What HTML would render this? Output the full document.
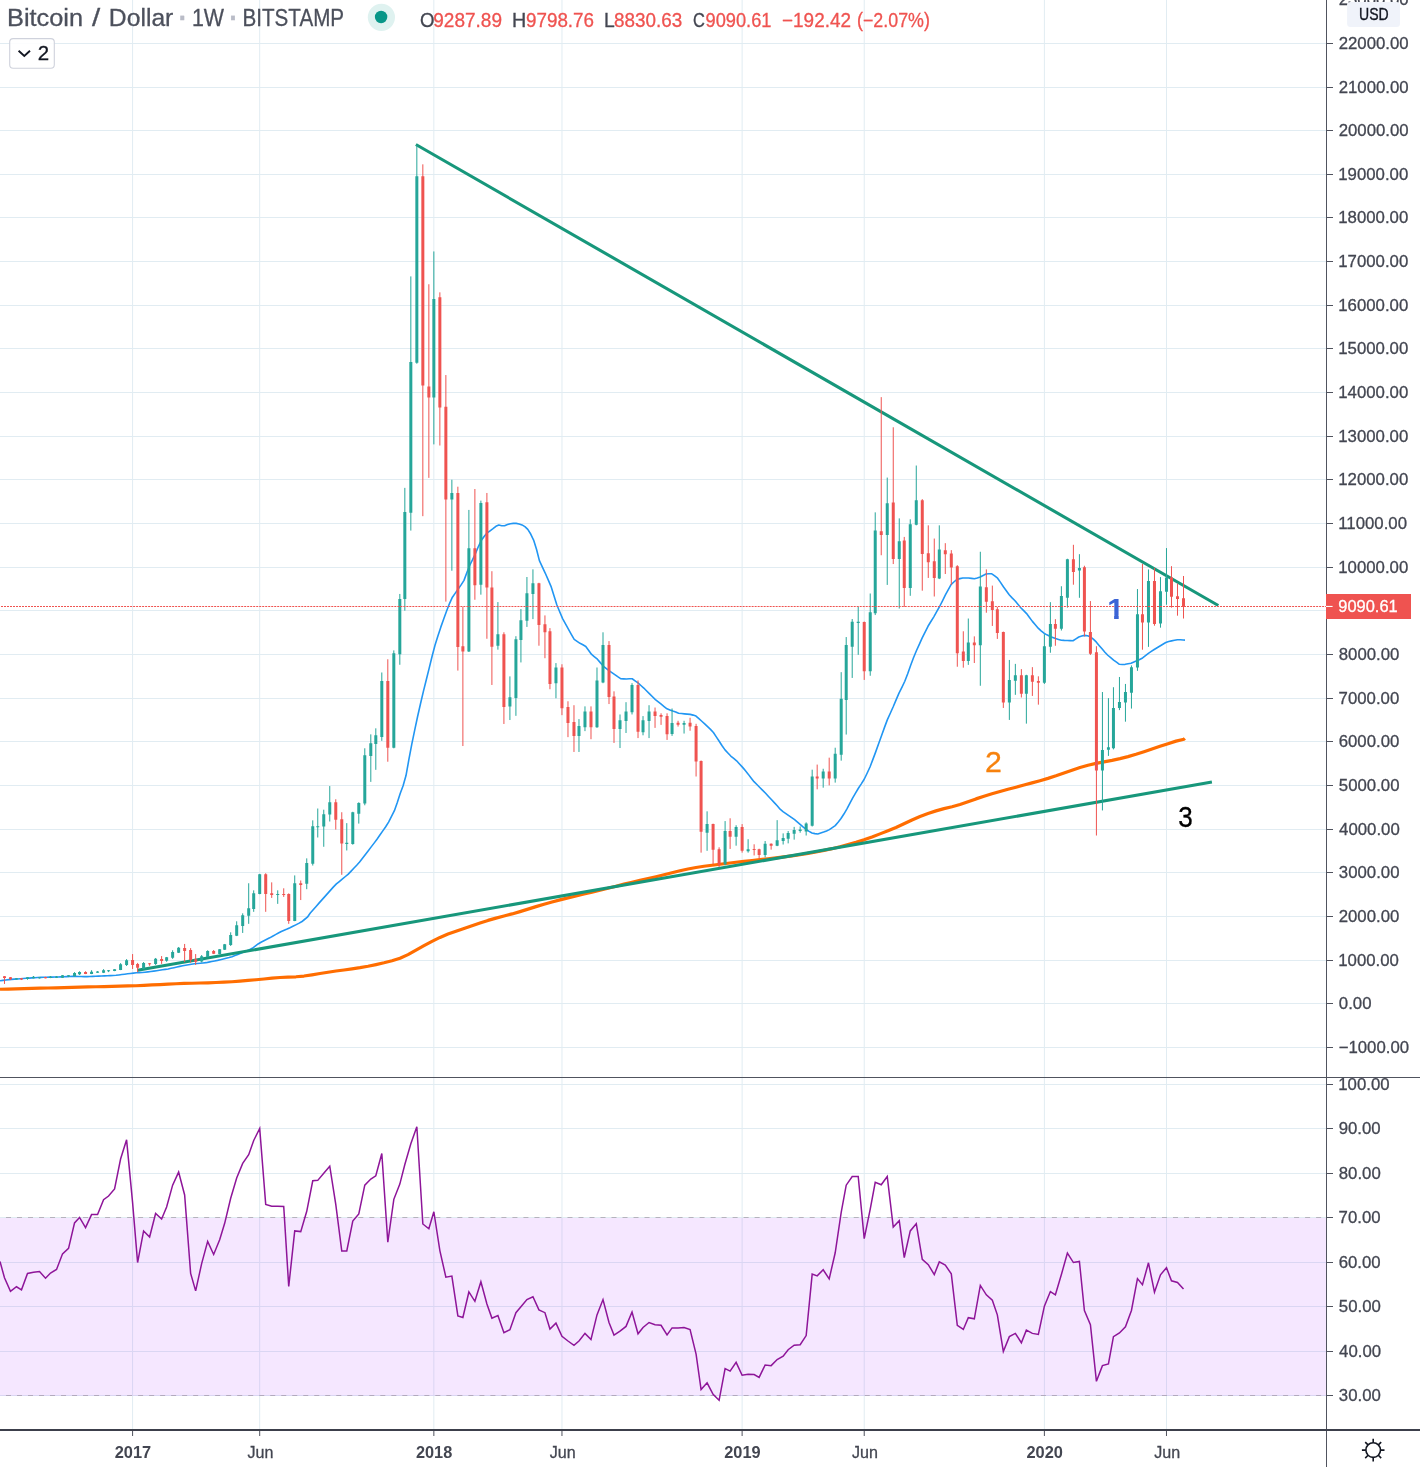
<!DOCTYPE html>
<html lang="en"><head><meta charset="utf-8"><title>Bitcoin / Dollar 1W BITSTAMP</title>
<style>html,body{margin:0;padding:0;background:#fff}body{width:1420px;height:1467px;overflow:hidden}</style></head>
<body>
<svg width="1420" height="1467" viewBox="0 0 1420 1467" style="display:block;font-family:'Liberation Sans', sans-serif">
<rect width="1420" height="1467" fill="#fff"/>
<path d="M0 1047.5 H1326 M0 1003.5 H1326 M0 960.5 H1326 M0 916.5 H1326 M0 872.5 H1326 M0 829.5 H1326 M0 785.5 H1326 M0 741.5 H1326 M0 698.5 H1326 M0 654.5 H1326 M0 610.5 H1326 M0 567.5 H1326 M0 523.5 H1326 M0 479.5 H1326 M0 436.5 H1326 M0 392.5 H1326 M0 348.5 H1326 M0 305.5 H1326 M0 261.5 H1326 M0 217.5 H1326 M0 174.5 H1326 M0 130.5 H1326 M0 87.5 H1326 M0 43.5 H1326 M0 1395.5 H1326 M0 1351.5 H1326 M0 1306.5 H1326 M0 1262.5 H1326 M0 1217.5 H1326 M0 1173.5 H1326 M0 1128.5 H1326 M0 1084.5 H1326 M132.59 0 V1429 M259.7 0 V1429 M433.85 0 V1429 M561.96 0 V1429 M742.12 0 V1429 M864.22 0 V1429 M1044.38 0 V1429 M1166.48 0 V1429" stroke="#e1ecf2" stroke-width="1" fill="none"/>
<rect x="0" y="1218" width="1326" height="178" fill="#9915ff" fill-opacity="0.1"/>
<path d="M0 1217.5 H1326 M0 1395.5 H1326" stroke="#9a8f9c" stroke-opacity="0.62" stroke-width="1" stroke-dasharray="5.0043 6.0052" stroke-dashoffset="-5.985" fill="none"/>
<path d="M0 989.23 L8 989.03 L16 988.82 L24 988.61 L32 988.41 L40 988.2 L48 988 L56 987.79 L64 987.59 L72 987.38 L80 987.17 L88 986.97 L96 986.76 L104 986.56 L112 986.36 L120 986.16 L128 985.97 L136 985.73 L144 985.38 L152 984.96 L160 984.55 L168 984.15 L176 983.77 L184 983.46 L192 983.23 L200 983.02 L208 982.78 L216 982.48 L224 982.16 L232 981.73 L240 981.14 L248 980.46 L256 979.76 L264 979 L272 978.2 L280 977.52 L288 977.12 L296 976.78 L304 976.04 L312 974.86 L320 973.52 L328 972.21 L336 971.03 L344 970.01 L352 968.94 L360 967.69 L368 966.24 L376 964.6 L384 962.78 L392 960.75 L400 958.22 L408 954.61 L416 950.11 L424 945.66 L432 941.38 L440 937.4 L448 934.05 L456 931.22 L464 928.54 L472 925.72 L480 922.96 L488 920.41 L496 918.09 L504 916 L512 913.92 L520 911.62 L528 909.14 L536 906.64 L544 904.25 L552 902 L560 899.87 L568 897.88 L576 895.95 L584 894.04 L592 892.12 L600 890.2 L608 888.24 L616 886.21 L624 884.15 L632 882.23 L640 880.41 L648 878.59 L656 876.72 L664 874.81 L672 872.79 L680 870.74 L688 868.97 L696 867.51 L704 866.28 L712 865.25 L720 864.25 L728 863.22 L736 862.23 L744 861.33 L752 860.5 L760 859.67 L768 858.78 L776 857.85 L784 856.87 L792 855.84 L800 854.71 L808 853.4 L816 851.96 L824 850.41 L832 848.68 L840 846.74 L848 844.6 L856 842.34 L864 839.86 L872 836.98 L880 833.88 L888 830.74 L896 827.46 L904 823.8 L912 819.94 L920 816.48 L928 813.52 L936 810.88 L944 808.62 L952 806.69 L960 804.55 L968 801.8 L976 798.88 L984 796.22 L992 793.8 L1000 791.52 L1008 789.33 L1016 787.17 L1024 785.02 L1032 782.86 L1040 780.67 L1048 778.35 L1056 775.82 L1064 773.04 L1072 770.18 L1080 767.51 L1088 765.21 L1096 763.42 L1104 761.93 L1112 760.38 L1120 758.64 L1128 756.65 L1136 754.32 L1144 751.73 L1152 749 L1160 746.26 L1168 743.65 L1176 741.14 L1184 739.2 L1184.8 738.38" stroke="#ff6d00" stroke-width="3.2" fill="none" stroke-linejoin="round" stroke-linecap="butt"/>
<path d="M0 980.78 L2.9 980.41 L5.8 980.03 L8.7 979.65 L11.6 979.34 L14.5 979.13 L17.4 978.93 L20.3 978.72 L23.2 978.52 L26.1 978.32 L29 978.12 L31.9 977.92 L34.8 977.74 L37.7 977.57 L40.6 977.4 L43.5 977.27 L46.4 977.21 L49.3 977.15 L52.2 977.1 L55.1 977.02 L58 976.93 L60.9 976.84 L63.8 976.75 L66.7 976.63 L69.6 976.52 L72.5 976.4 L75.4 976.39 L78.3 976.48 L81.2 976.56 L84.1 976.65 L87 976.59 L89.9 976.5 L92.8 976.41 L95.7 976.31 L98.6 976.17 L101.5 976.02 L104.4 975.88 L107.3 975.73 L110.2 975.59 L113.1 975.44 L116 975.3 L118.9 974.94 L121.8 974.56 L124.7 974.19 L127.6 973.82 L130.5 973.47 L133.4 973.12 L136.3 972.77 L139.2 972.6 L142.1 972.53 L145 972.21 L147.9 971.84 L150.8 971.46 L153.7 971.09 L156.6 970.69 L159.5 970.25 L162.4 969.81 L165.3 969.38 L168.2 968.93 L171.1 968.29 L174 967.66 L176.9 967.02 L179.8 966.39 L182.7 965.83 L185.6 965.31 L188.5 964.79 L191.4 964.27 L194.3 963.82 L197.2 963.54 L200.1 963.25 L203 962.96 L205.9 962.67 L208.8 962.11 L211.7 961.53 L214.6 960.94 L217.5 960.36 L220.4 959.7 L223.3 958.98 L226.2 958.25 L229.1 957.53 L232 956.72 L234.9 955.57 L237.8 954.41 L240.7 953.26 L243.6 952.1 L246.5 950.9 L249.4 949.7 L252.3 948.29 L255.2 946.12 L258.1 943.95 L261 942.2 L263.9 940.75 L266.8 939.3 L269.7 937.83 L272.6 936.24 L275.5 934.65 L278.4 933.07 L281.3 931.48 L284.2 930.2 L287.1 929.03 L290 927.72 L292.9 926.29 L295.8 924.85 L298.7 923.39 L301.6 921.79 L304.5 919.5 L307.4 917.21 L310.3 913 L313.2 909.71 L316.1 906.43 L319 903.14 L321.9 899.86 L324.8 896.62 L327.7 893.38 L330.6 890.14 L333.5 886.9 L336.4 883.89 L339.3 881.51 L342.2 879.13 L345.1 876.75 L348 874.37 L350.9 871.37 L353.8 868.3 L356.7 865.22 L359.6 861.96 L362.5 858.19 L365.4 854.42 L368.3 850.65 L371.2 846.88 L374.1 843.12 L377 839.22 L379.9 835.05 L382.8 830.88 L385.7 826.71 L388.6 822.07 L391.5 816.4 L394.4 810.73 L397.3 802.47 L400.2 793.47 L403.1 785.83 L406 775.56 L408.9 759.46 L411.8 744.03 L414.7 730.1 L417.6 716.53 L420.5 703.76 L423.4 691.35 L426.3 679.74 L429.2 668.07 L432.1 656.26 L435 645.32 L437.9 636.03 L440.8 627.14 L443.7 619.02 L446.6 611.09 L449.5 603.55 L452.4 597.2 L455.3 593.14 L458.2 589.05 L461.1 584.91 L464 580.37 L466.9 572.45 L469.8 565.26 L472.7 559.45 L475.6 553.25 L478.5 546.28 L481.4 540.32 L484.3 536.26 L487.2 532.88 L490.1 530.79 L493 528.62 L495.9 526.29 L498.8 525.01 L501.7 525.71 L504.6 525.77 L507.5 524.61 L510.4 523.72 L513.3 523.38 L516.2 523.35 L519.1 523.93 L522 524.91 L524.9 526.65 L527.8 529.39 L530.7 534.04 L533.6 540.03 L536.5 549.28 L539.4 560.67 L542.3 566.82 L545.2 573.04 L548.1 579.64 L551 586.34 L553.9 595.59 L556.8 604.77 L559.7 611.71 L562.6 618.6 L565.5 623.81 L568.4 629.02 L571.3 634.32 L574.2 639.38 L577.1 641.35 L580 643.29 L582.9 644.79 L585.8 646.47 L588.7 650.52 L591.6 654.45 L594.5 656.77 L597.4 659.16 L600.3 662.63 L603.2 666.03 L606.1 668.34 L609 670.63 L611.9 672.6 L614.8 674.57 L617.7 676.66 L620.6 678.61 L623.5 678.84 L626.4 679.04 L629.3 678.81 L632.2 678.74 L635.1 680.82 L638 682.94 L640.9 685.48 L643.8 688.05 L646.7 690.95 L649.6 693.84 L652.5 696.73 L655.4 699.59 L658.3 701.9 L661.2 704.21 L664.1 706.53 L667 708.76 L669.9 709.92 L672.8 711.05 L675.7 712.02 L678.6 713.32 L681.5 713.57 L684.4 713.86 L687.3 714.09 L690.2 714.4 L693.1 715.1 L696 716.11 L698.9 718.67 L701.8 721.24 L704.7 723.91 L707.6 726.6 L710.5 729.39 L713.4 732.45 L716.3 736.86 L719.2 741.28 L722.1 745.69 L725 749.88 L727.9 753.01 L730.8 756.01 L733.7 758.33 L736.6 760.79 L739.5 763.92 L742.4 767.12 L745.3 770.6 L748.2 774.14 L751.1 777.97 L754 781.65 L756.9 784.55 L759.8 787.45 L762.7 790.35 L765.6 793.29 L768.5 796.43 L771.4 799.55 L774.3 802.62 L777.2 805.76 L780.1 809.18 L783 811.54 L785.9 813.58 L788.8 815.61 L791.7 817.65 L794.6 819.68 L797.5 822.1 L800.4 824.63 L803.3 827.16 L806.2 829.49 L809.1 831.37 L812 832.97 L814.9 833.65 L817.8 834.01 L820.7 833.07 L823.6 832.1 L826.5 830.92 L829.4 829.62 L832.3 827.62 L835.2 825.61 L838.1 822.24 L841 818.5 L843.9 814.04 L846.8 809.08 L849.7 803.56 L852.6 798.11 L855.5 793.14 L858.4 788.25 L861.3 783.86 L864.2 779.25 L867.1 773.24 L870 767.01 L872.9 759.37 L875.8 751.65 L878.7 743.56 L881.6 735.47 L884.5 727.39 L887.4 719.6 L890.3 713.24 L893.2 706.79 L896.1 699.86 L899 693.13 L901.9 687.35 L904.8 681.27 L907.7 673.76 L910.6 665.43 L913.5 657.73 L916.4 650.78 L919.3 644.32 L922.2 637.95 L925.1 632.07 L928 626.28 L930.9 621.48 L933.8 616.84 L936.7 611.71 L939.6 606.49 L942.5 600.78 L945.4 594.98 L948.3 589.69 L951.2 584.47 L954.1 581.75 L957 579.43 L959.9 578.61 L962.8 578.03 L965.7 577.95 L968.6 577.95 L971.5 578.35 L974.4 578.82 L977.3 577.98 L980.2 576.94 L983.1 575.5 L986 573.99 L988.9 573.78 L991.8 573.78 L994.7 575.86 L997.6 578.18 L1000.5 582.37 L1003.4 586.77 L1006.3 590.82 L1009.2 594.8 L1012.1 597.9 L1015 600.77 L1017.9 604.22 L1020.8 607.71 L1023.7 610.59 L1026.6 613.6 L1029.5 617.49 L1032.4 621.39 L1035.3 624.8 L1038.2 628.15 L1041.1 630.88 L1044 633.22 L1046.9 634.83 L1049.8 636.21 L1052.7 637.41 L1055.6 638.58 L1058.5 639.41 L1061.4 640.24 L1064.3 640.42 L1067.2 640.53 L1070.1 640.64 L1073 640.76 L1075.9 638.84 L1078.8 636.96 L1081.7 636.04 L1084.6 635.38 L1087.5 635.73 L1090.4 636.76 L1093.3 639.06 L1096.2 641.9 L1099.1 645.42 L1102 648.84 L1104.9 652.19 L1107.8 655.26 L1110.7 657.69 L1113.6 660.1 L1116.5 662.21 L1119.4 664.32 L1122.3 664.57 L1125.2 664.33 L1128.1 663.78 L1131 663.19 L1133.9 662.02 L1136.8 660.85 L1139.7 659.43 L1142.6 657.93 L1145.5 655.68 L1148.4 653.35 L1151.3 651.43 L1154.2 649.51 L1157.1 647.72 L1160 645.96 L1162.9 644.21 L1165.8 642.46 L1168.7 641.48 L1171.6 640.9 L1174.5 640.33 L1177.4 639.75 L1180.3 639.82 L1183.2 640 L1185 640.11" stroke="#2196f3" stroke-width="1.6" fill="none" stroke-linejoin="round"/>
<path d="M415.9 144.5 L1218.3 605.5 M137.6 970.3 L1211.9 782.0" stroke="#17977b" stroke-width="3.1" fill="none" stroke-linecap="butt"/>
<g>
<path d="M16.49 978.14 V979.62 M27.5 977.08 V979.72 M33.51 976.03 V978.35 M39.51 977.08 V978.56 M50.52 976.03 V978.14 M56.53 976.03 V978.03 M62.53 975.08 V978.03 M68.54 975.08 V977.08 M74.54 972.12 V976.45 M79.55 971.27 V974.97 M91.56 970.22 V974.13 M97.56 971.06 V972.86 M103.57 969.16 V973.07 M108.57 970.01 V972.12 M114.58 969.16 V971.17 M120.58 963.14 V970.11 M126.59 959.13 V965.99 M143.6 962.02 V968.97 M155.61 957.97 V964.93 M166.62 956.96 V961.76 M172.63 950.26 V958.86 M178.63 946.97 V953.04 M201.65 955.06 V962.4 M207.66 950.26 V957.21 M219.67 949.12 V954.3 M224.67 943.94 V950.01 M230.68 932.3 V945.96 M236.68 921.3 V936.1 M242.69 913.34 V932.94 M248.69 883.25 V923.83 M253.7 890.33 V911.82 M259.7 873.89 V894.25 M277.72 890.33 V903.86 M294.73 875.41 V921.18 M306.74 858.36 V889.19 M312.75 820.35 V865.55 M317.75 808.53 V837.5 M323.76 809.69 V846.77 M329.76 786.05 V821.51 M346.78 823.13 V850.48 M352.78 811.78 V844.69 M358.79 802.28 V823.6 M364.79 748.28 V805.29 M370.8 734.37 V781.88 M375.8 728.34 V769.83 M381.81 672.49 V740.86 M393.82 650.38 V748.35 M399.82 593.96 V664.77 M404.83 487.86 V610.68 M410.83 276.4 V530.58 M416.84 145.16 V363.74 M433.85 251.44 V444.38 M451.87 479.73 V570.74 M468.88 509.91 V652 M480.89 500.63 V594.66 M497.91 602.09 V649.68 M509.92 676.38 V720.03 M515.92 636.21 V715.85 M520.93 609.05 V662.45 M526.93 577.01 V626.93 M532.94 569.35 V619.11 M555.96 663.09 V698.27 M578.98 719.1 V751.96 M584.98 706.37 V731.13 M596.99 667.49 V727.89 M603 632.31 V683.22 M620.01 714.47 V748.03 M626.02 702.2 V732.99 M632.02 683.22 V714.47 M643.03 716.09 V735.3 M649.04 705.21 V738.08 M672.06 708.48 V735.87 M684.07 720.78 V733.55 M707.09 811.33 V850.8 M725.1 821.08 V865.19 M736.11 825.26 V845.69 M748.12 839.19 V852.65 M765.14 841.04 V857.3 M777.15 820.15 V846.15 M783.15 833.38 V844.53 M788.16 831.06 V843.37 M794.16 826.88 V839.65 M800.17 826.42 V832.69 M806.17 822.36 V835.53 M812.18 769.68 V826.52 M823.19 768.75 V787.7 M835.2 747.73 V782.62 M841.2 672.17 V760.67 M846.21 637.05 V734.56 M852.21 619.03 V677.95 M858.22 606.78 V654.84 M870.23 593.49 V675.78 M875.23 512.35 V615.05 M887.24 477.58 V584.91 M899.25 518.38 V608.55 M910.26 519.3 V595.8 M916.27 465.52 V525.33 M939.29 525.33 V579.11 M968.31 618.52 V664.89 M980.32 551.76 V685.75 M1009.35 659.96 V719.93 M1015.35 663.88 V694.85 M1026.36 674.79 V723.64 M1044.38 634.22 V683.95 M1050.38 602.16 V652.76 M1061.39 586.24 V630.51 M1067.4 558.76 V607.61 M1079.41 554.18 V597.8 M1102.43 692.02 V810.45 M1108.43 698.12 V755.92 M1113.44 687.22 V749.38 M1119.44 676.97 V710.12 M1125.45 683.95 V721.68 M1131.45 665.41 V708.59 M1137.46 589.07 V670.86 M1148.47 569.44 V646.87 M1160.48 577.08 V627.68 M1166.48 548.07 V604.78" stroke="#26a69a" stroke-width="1" fill="none"/>
<path d="M14.99 978.35h3v1.06h-3z M26 977.3h3v1.69h-3z M32.01 976.87h3v1.27h-3z M38.01 977.3h3v1.06h-3z M49.02 976.77h3v1.16h-3z M55.03 976.56h3v1.27h-3z M61.03 975.29h3v2.54h-3z M67.04 975.29h3v1.27h-3z M73.04 973.07h3v3.17h-3z M78.05 972.12h3v2.01h-3z M90.06 971.8h3v2.11h-3z M96.06 971.59h3v1.06h-3z M102.07 970.22h3v2.64h-3z M107.07 970.22h3v1.06h-3z M113.08 969.37h3v1.58h-3z M119.08 964.2h3v5.7h-3z M125.09 960.18h3v4.75h-3z M142.1 962.9h3v5.82h-3z M154.11 958.86h3v5.06h-3z M165.12 957.34h3v3.41h-3z M171.13 951.9h3v5.94h-3z M177.13 947.73h3v5.06h-3z M200.15 956.33h3v5.06h-3z M206.16 951.02h3v5.94h-3z M218.17 949.37h3v4.68h-3z M223.17 944.19h3v5.56h-3z M229.18 935.09h3v9.86h-3z M235.18 925.35h3v10.49h-3z M241.19 915.24h3v10.75h-3z M247.19 908.28h3v7.59h-3z M252.2 893.36h3v15.55h-3z M258.2 874.14h3v19.85h-3z M276.22 893.99h3v1.01h-3z M293.23 883.25h3v37.68h-3z M305.24 863h3v20.86h-3z M311.25 826.15h3v37.55h-3z M316.25 826.15h3v1.16h-3z M322.26 814.33h3v12.28h-3z M328.26 802.28h3v12.28h-3z M345.28 842.83h3v1.16h-3z M351.28 812.24h3v31.75h-3z M357.29 802.97h3v10.89h-3z M363.29 755.23h3v48.21h-3z M369.3 743.18h3v12.75h-3z M374.3 735.3h3v8.58h-3z M380.31 681.06h3v55.85h-3z M392.32 653.16h3v94.49h-3z M398.32 599.07h3v55.26h-3z M403.33 512h3v87.06h-3z M409.33 361.89h3v150.81h-3z M415.34 176.35h3v186.47h-3z M432.35 299.04h3v98.43h-3z M450.37 492.97h3v6.5h-3z M467.38 548.22h3v103.32h-3z M479.39 502.95h3v81.72h-3z M496.41 634.13h3v11.61h-3z M508.42 697.28h3v9.29h-3z M514.42 639.23h3v58.74h-3z M519.43 620.19h3v19.73h-3z M525.43 593.26h3v27.4h-3z M531.44 583.24h3v10.88h-3z M554.46 667.49h3v15.74h-3z M577.48 726.04h3v9.95h-3z M583.48 711.46h3v15.74h-3z M595.49 680.45h3v46.75h-3z M601.5 645.04h3v37.49h-3z M618.51 720.26h3v8.8h-3z M624.52 711.46h3v9.49h-3z M630.52 685.08h3v27.08h-3z M641.53 720.26h3v12.04h-3z M647.54 711.46h3v9.49h-3z M670.56 723.1h3v10.91h-3z M682.57 723.1h3v1.63h-3z M705.59 824.1h3v8.59h-3z M723.6 831.06h3v33.2h-3z M734.61 826.88h3v9.98h-3z M746.62 849.17h3v2.09h-3z M763.64 843.83h3v11.14h-3z M775.65 840.35h3v5.34h-3z M781.65 838.03h3v3.02h-3z M786.66 832.92h3v5.8h-3z M792.66 829.9h3v3.95h-3z M798.67 829.44h3v1.63h-3z M804.67 823.52h3v8.09h-3z M810.68 776.61h3v49.22h-3z M821.69 771.53h3v6.93h-3z M833.7 753.73h3v24.72h-3z M839.7 698.74h3v55.92h-3z M844.71 644.91h3v54.99h-3z M850.71 621.8h3v24.95h-3z M856.72 621.8h3v1.16h-3z M868.73 612.26h3v58.88h-3z M873.73 530.43h3v82.76h-3z M885.74 503.31h3v31.76h-3z M897.75 541.33h3v17.62h-3z M908.76 524.17h3v63.75h-3z M914.77 500.3h3v24.34h-3z M937.79 549.44h3v28.98h-3z M966.81 642.4h3v18.55h-3z M978.82 586.53h3v58.65h-3z M1007.85 680.02h3v22.46h-3z M1013.85 675.22h3v5.45h-3z M1024.86 675.22h3v18.54h-3z M1042.88 646.22h3v36.64h-3z M1048.88 623.97h3v22.9h-3z M1059.89 596.05h3v32.72h-3z M1065.9 559.19h3v38.6h-3z M1077.91 567.92h3v2.62h-3z M1100.93 750.03h3v20.5h-3z M1106.93 747.2h3v2.62h-3z M1111.94 707.94h3v40.35h-3z M1117.94 702.05h3v5.89h-3z M1123.95 692.02h3v10.47h-3z M1129.95 667.15h3v25.52h-3z M1135.96 614.15h3v53.44h-3z M1146.97 581h3v41.44h-3z M1158.98 591.25h3v32.28h-3z M1164.98 577.51h3v14.18h-3z" fill="#26a69a"/>
<path d="M4.48 976.03 V983.95 M10.49 977.08 V980.04 M21.5 978.14 V980.04 M45.52 976.87 V978.35 M85.55 971.27 V974.13 M132.59 954.05 V968.97 M137.6 962.9 V972.13 M149.61 963.03 V965.81 M161.62 956.07 V963.91 M184.64 943.94 V962.02 M190.64 948.11 V962.65 M195.65 954.05 V964.93 M213.66 950.01 V954.05 M265.71 873.26 V911.82 M271.71 882.36 V897.91 M283.72 888.3 V896.9 M288.73 893.36 V923.83 M300.74 880.47 V900.06 M335.77 799.26 V829.62 M341.77 812.24 V874.82 M387.81 659.28 V761.72 M422.84 164.33 V516.18 M428.85 284.25 V477.87 M439.86 292.34 V445.53 M445.86 375.06 V601.62 M457.87 486.7 V670.58 M462.88 606.73 V746.03 M474.89 489.02 V599.76 M486.9 492.97 V638.77 M491.9 571.21 V684.97 M503.91 632.27 V723.97 M538.94 582.78 V645.73 M544.95 615.41 V658.23 M549.95 628.14 V689.24 M561.96 664.25 V715.16 M567.97 701.28 V737.15 M573.97 705.21 V751.96 M590.99 706.37 V739.23 M609 641.1 V704.05 M614.01 691.33 V742.94 M638.03 680.45 V738.08 M655.04 707.53 V727.89 M661.05 713.31 V724.89 M667.05 713.31 V739.93 M678.06 720.78 V726.58 M690.07 717.76 V730.76 M696.08 723.8 V776.5 M701.08 760.48 V852.65 M713.09 823.63 V864.26 M719.1 847.31 V867.05 M730.11 818.29 V848.94 M742.12 824.1 V852.65 M754.13 844.3 V855.44 M759.13 848.71 V858.46 M771.14 843.37 V849.64 M817.18 764.59 V789.32 M829.19 757.66 V785.39 M864.22 621.54 V679.95 M881.24 397.14 V555.24 M893.25 427.27 V564.05 M904.26 536.92 V606.93 M922.27 499.14 V590.7 M928.28 525.33 V577.95 M934.28 538.55 V596.5 M945.29 543.18 V574.01 M951.3 550.14 V584.91 M957.3 565.2 V666.74 M963.31 631.27 V667.67 M974.32 636.37 V663.03 M986.33 569.38 V612.73 M992.33 585.6 V625.94 M997.34 606.93 V638.92 M1003.34 631.6 V707.94 M1021.36 669.12 V697.47 M1032.37 667.15 V695.94 M1038.37 676.31 V704.67 M1055.39 619.17 V645.78 M1073.4 544.8 V584.71 M1084.41 565.74 V636.4 M1090.42 601.07 V654.94 M1096.42 646.22 V835.53 M1142.46 563.99 V649.71 M1154.47 567.92 V625.71 M1171.49 566.17 V607.61 M1177.49 583.62 V615.68 M1183.5 575.99 V618.52" stroke="#ef5350" stroke-width="1" fill="none"/>
<path d="M2.98 976.24h3v1.69h-3z M8.99 977.3h3v1.9h-3z M20 978.35h3v1.06h-3z M44.02 977.08h3v1.06h-3z M84.05 972.12h3v1.8h-3z M131.09 960.12h3v4.8h-3z M136.1 963.91h3v3.79h-3z M148.11 963.22h3v1h-3z M160.12 959.11h3v1.77h-3z M183.14 948.11h3v2.91h-3z M189.14 950.01h3v10.11h-3z M194.15 959.24h3v2.53h-3z M212.16 951.02h3v2.78h-3z M264.21 874.14h3v19.85h-3z M270.21 893.36h3v1.64h-3z M282.22 893.99h3v1.01h-3z M287.23 893.99h3v26.93h-3z M299.24 883.25h3v1.64h-3z M334.27 802.28h3v17.38h-3z M340.27 819.19h3v24.34h-3z M386.31 681.06h3v66.75h-3z M421.34 176.35h3v209.11h-3z M427.35 386.61h3v10.86h-3z M438.36 297.19h3v110.22h-3z M444.36 406.72h3v92.75h-3z M456.37 492.97h3v153.93h-3z M461.38 646.2h3v5.34h-3z M473.39 548.22h3v37.15h-3z M485.4 502.25h3v85.21h-3z M490.4 587.46h3v59.2h-3z M502.41 634.13h3v72.9h-3z M537.44 583.24h3v41.66h-3z M543.45 624.2h3v8.1h-3z M548.45 631.15h3v52.77h-3z M560.46 667.49h3v40.73h-3z M566.47 707.06h3v15.97h-3z M572.47 722.11h3v13.89h-3z M589.49 711.46h3v15.74h-3z M607.5 645.04h3v52.08h-3z M612.51 696.42h3v32.63h-3z M636.53 685.08h3v46.75h-3z M653.54 711.46h3v4.63h-3z M659.55 714.93h3v1.85h-3z M665.55 716.09h3v18.05h-3z M676.56 722.64h3v2.09h-3z M688.57 722.64h3v3.95h-3z M694.58 726.12h3v35.29h-3z M699.58 760.95h3v70.81h-3z M711.59 824.1h3v25.54h-3z M717.6 849.17h3v15.56h-3z M728.61 831.06h3v5.8h-3z M740.62 826.88h3v23.91h-3z M752.63 848.94h3v1.16h-3z M757.63 849.17h3v5.8h-3z M769.64 843.83h3v1.86h-3z M815.68 776.61h3v1.85h-3z M827.69 771.53h3v6.93h-3z M862.72 622h3v49.15h-3z M879.74 531.13h3v3.94h-3z M891.75 502.61h3v56.33h-3z M902.76 540.4h3v47.52h-3z M920.77 500.3h3v53.78h-3z M926.78 553.15h3v9.04h-3z M932.78 561.26h3v16.69h-3z M943.79 550.14h3v4.17h-3z M949.8 553.61h3v13.91h-3z M955.8 566.36h3v86.93h-3z M961.81 651.44h3v9.5h-3z M972.82 642.4h3v2.78h-3z M984.83 587.23h3v14.6h-3z M990.83 601.14h3v8.81h-3z M995.84 609.25h3v23.65h-3z M1001.84 632.04h3v70.45h-3z M1019.86 675.22h3v18.54h-3z M1030.87 675.22h3v6.54h-3z M1036.87 681.11h3v1.74h-3z M1053.89 623.97h3v4.8h-3z M1071.9 559.19h3v12.87h-3z M1082.91 567.26h3v64.34h-3z M1088.92 632.04h3v21.81h-3z M1094.92 652.32h3v118.21h-3z M1140.96 614.15h3v8.29h-3z M1152.97 581h3v42.97h-3z M1169.99 577.51h3v19.19h-3z M1175.99 596.27h3v2.62h-3z M1182 598.23h3v8.29h-3z" fill="#ef5350"/>
</g>
<path d="M-0.02 606.45 H1326" stroke="#ef5350" stroke-width="1.05" stroke-dasharray="2.0017 1.0009" stroke-dashoffset="2.0017" fill="none"/>
<clipPath id="c1"><rect x="1104" y="590" width="22" height="25.6"/><rect x="1114.1" y="615" width="4.6" height="5"/></clipPath>
<text x="1107.3" y="618.8" font-size="30.4" font-weight="bold" fill="#3b64d6" clip-path="url(#c1)">1</text>
<text x="984.98" y="771.90" font-size="29.68" textLength="16.87" lengthAdjust="spacingAndGlyphs" fill="#f7820d" stroke="#f7820d" stroke-width="0.3">2</text>
<text x="1178.22" y="827.40" font-size="28.98" textLength="14.52" lengthAdjust="spacingAndGlyphs" fill="#000" stroke="#000" stroke-width="0.3">3</text>
<path d="M0 1261.46 L4.48 1277.8 L10.49 1291.32 L16.49 1286.74 L21.5 1289.79 L27.5 1273.44 L33.51 1272.35 L39.51 1271.48 L45.52 1278.24 L50.52 1273.01 L56.53 1269.52 L62.53 1253.83 L68.54 1248.38 L74.54 1222.88 L79.55 1217.43 L85.55 1227.67 L91.56 1214.59 L97.56 1214.59 L103.57 1199.77 L108.57 1196.07 L114.58 1188.87 L120.58 1159.01 L126.59 1139.83 L132.59 1202.61 L137.6 1262.54 L143.6 1230.94 L149.61 1237.04 L155.61 1213.5 L161.62 1218.95 L166.62 1206.97 L172.63 1185.17 L178.63 1172.09 L184.64 1194.98 L190.64 1273.44 L195.65 1290.88 L201.65 1263.63 L207.66 1241.4 L213.66 1254.48 L219.67 1239.66 L224.67 1223.31 L230.68 1198.25 L236.68 1177.98 L242.69 1163.37 L248.69 1154.66 L253.7 1140.49 L259.7 1128.5 L265.71 1204.35 L271.71 1206.31 L277.72 1206.31 L283.72 1206.53 L288.73 1286.52 L294.73 1230.94 L300.74 1231.59 L306.74 1211.32 L312.75 1180.81 L317.75 1180.37 L323.76 1173.18 L329.76 1166.21 L335.77 1204.35 L341.77 1250.99 L346.78 1250.99 L352.78 1221.13 L358.79 1213.94 L364.79 1185.17 L370.8 1179.07 L375.8 1175.8 L381.81 1153.57 L387.81 1242.27 L393.82 1199.34 L399.82 1184.08 L404.83 1164.46 L410.83 1143.76 L416.84 1126.76 L422.84 1223.97 L428.85 1228.76 L433.85 1211.76 L439.86 1250.56 L445.86 1277.15 L451.87 1276.06 L457.87 1315.94 L462.88 1317.47 L468.88 1291.97 L474.89 1301.34 L480.89 1281.73 L486.9 1303.96 L491.9 1318.12 L497.91 1315.51 L503.91 1332.73 L509.92 1329.68 L515.92 1312.68 L520.93 1306.79 L526.93 1299.6 L532.94 1296.76 L538.94 1309.84 L544.95 1312.68 L549.95 1329.02 L555.96 1323.14 L561.96 1336.22 L567.97 1341.01 L573.97 1345.37 L578.98 1341.01 L584.98 1333.38 L590.99 1339.48 L596.99 1314.86 L603 1299.6 L609 1322.48 L614.01 1335.13 L620.01 1331.2 L626.02 1326.41 L632.02 1312.02 L638.03 1333.82 L643.03 1327.5 L649.04 1322.48 L655.04 1324.66 L661.05 1325.32 L667.05 1334.91 L672.06 1327.93 L678.06 1327.93 L684.07 1327.5 L690.07 1329.46 L696.08 1354.09 L701.08 1389.62 L707.09 1382.86 L713.09 1394.41 L719.1 1400.3 L725.1 1368.69 L730.11 1371.09 L736.11 1362.37 L742.12 1375.23 L748.12 1374.36 L754.13 1374.58 L759.13 1377.41 L765.14 1364.99 L771.14 1365.64 L777.15 1359.54 L783.15 1356.27 L788.16 1349.73 L794.16 1345.15 L800.17 1344.72 L806.17 1335.56 L812.18 1274.1 L817.18 1275.84 L823.19 1269.74 L829.19 1278.89 L835.2 1252.74 L841.2 1212.41 L846.21 1185.17 L852.21 1176.45 L858.22 1176.45 L864.22 1238.57 L870.23 1209.14 L875.23 1182.34 L881.24 1184.73 L887.24 1176.45 L893.25 1227.02 L899.25 1220.7 L904.26 1257.53 L910.26 1230.94 L916.27 1223.75 L922.27 1259.28 L928.28 1264.72 L934.28 1274.53 L939.29 1261.89 L945.29 1265.16 L951.3 1273.88 L957.3 1325.32 L963.31 1329.46 L968.31 1317.69 L974.32 1318.78 L980.32 1285.43 L986.33 1294.8 L992.33 1300.25 L997.34 1314.86 L1003.34 1351.47 L1009.35 1336.65 L1015.35 1333.38 L1021.36 1342.75 L1026.36 1330.11 L1032.37 1333.38 L1038.37 1334.47 L1044.38 1306.14 L1050.38 1291.53 L1055.39 1294.8 L1061.39 1274.53 L1067.4 1253.17 L1073.4 1262.54 L1079.41 1261.46 L1084.41 1310.5 L1090.42 1324.66 L1096.42 1381.33 L1102.43 1365.64 L1108.43 1363.9 L1113.44 1336.65 L1119.44 1332.95 L1125.45 1326.84 L1131.45 1310.5 L1137.46 1278.61 L1142.46 1284.61 L1148.47 1262.79 L1154.47 1292.25 L1160.48 1274.79 L1166.48 1267.7 L1171.49 1280.79 L1177.49 1282.43 L1183.5 1288.97" stroke="#8e1599" stroke-width="1.5" fill="none" stroke-linejoin="miter"/>
<path d="M1326.5 0 V1467" stroke="#50535e" stroke-width="1" fill="none"/>
<path d="M0 1077.5 H1420" stroke="#50535e" stroke-width="1" fill="none"/>
<path d="M0 1430 H1420" stroke="#3c3f4b" stroke-width="2" fill="none"/>
<path d="M1327 1047.5 h6 M1327 1003.5 h6 M1327 960.5 h6 M1327 916.5 h6 M1327 872.5 h6 M1327 829.5 h6 M1327 785.5 h6 M1327 741.5 h6 M1327 698.5 h6 M1327 654.5 h6 M1327 567.5 h6 M1327 523.5 h6 M1327 479.5 h6 M1327 436.5 h6 M1327 392.5 h6 M1327 348.5 h6 M1327 305.5 h6 M1327 261.5 h6 M1327 217.5 h6 M1327 174.5 h6 M1327 130.5 h6 M1327 87.5 h6 M1327 43.5 h6 M1327 1395.5 h6 M1327 1351.5 h6 M1327 1306.5 h6 M1327 1262.5 h6 M1327 1217.5 h6 M1327 1173.5 h6 M1327 1128.5 h6 M1327 1084.5 h6 M132.59 1431 v5 M259.7 1431 v5 M433.85 1431 v5 M561.96 1431 v5 M742.12 1431 v5 M864.22 1431 v5 M1044.38 1431 v5 M1166.48 1431 v5" stroke="#50535e" stroke-width="1" fill="none"/>
<g font-size="16.8" fill="#434651" stroke="#434651" stroke-width="0.3">
<text x="1338.66" y="1052.9">−1000.00</text>
<text x="1338.83" y="1008.9">0.00</text>
<text x="1338.24" y="965.9">1000.00</text>
<text x="1338.66" y="921.9">2000.00</text>
<text x="1338.87" y="877.9">3000.00</text>
<text x="1339.12" y="834.9">4000.00</text>
<text x="1338.83" y="790.9">5000.00</text>
<text x="1338.66" y="746.9">6000.00</text>
<text x="1338.62" y="703.9">7000.00</text>
<text x="1338.79" y="659.9">8000.00</text>
<text x="1338.24" y="572.9">10000.00</text>
<text x="1338.24" y="528.9">11000.00</text>
<text x="1338.24" y="484.9">12000.00</text>
<text x="1338.24" y="441.9">13000.00</text>
<text x="1338.24" y="397.9">14000.00</text>
<text x="1338.24" y="353.9">15000.00</text>
<text x="1338.24" y="310.9">16000.00</text>
<text x="1338.24" y="266.9">17000.00</text>
<text x="1338.24" y="222.9">18000.00</text>
<text x="1338.24" y="179.9">19000.00</text>
<text x="1338.66" y="135.9">20000.00</text>
<text x="1338.66" y="92.9">21000.00</text>
<text x="1338.66" y="48.9">22000.00</text>
<text x="1338.66" y="4.9">23000.00</text>
<text x="1338.87" y="1400.9">30.00</text>
<text x="1339.12" y="1356.9">40.00</text>
<text x="1338.83" y="1311.9">50.00</text>
<text x="1338.66" y="1267.9">60.00</text>
<text x="1338.62" y="1222.9">70.00</text>
<text x="1338.79" y="1178.9">80.00</text>
<text x="1338.7" y="1133.9">90.00</text>
<text x="1338.24" y="1089.9">100.00</text>
</g>
<g>
<text x="114.72" y="1458.00" font-size="16.80" textLength="36.51" lengthAdjust="spacingAndGlyphs" fill="#434651" font-weight="bold">2017</text>
<text x="247.46" y="1458.00" font-size="16.80" textLength="25.92" lengthAdjust="spacingAndGlyphs" fill="#434651" stroke="#434651" stroke-width="0.3">Jun</text>
<text x="415.98" y="1458.00" font-size="16.80" textLength="36.30" lengthAdjust="spacingAndGlyphs" fill="#434651" font-weight="bold">2018</text>
<text x="549.72" y="1458.00" font-size="16.80" textLength="25.92" lengthAdjust="spacingAndGlyphs" fill="#434651" stroke="#434651" stroke-width="0.3">Jun</text>
<text x="724.25" y="1458.00" font-size="16.80" textLength="36.38" lengthAdjust="spacingAndGlyphs" fill="#434651" font-weight="bold">2019</text>
<text x="851.98" y="1458.00" font-size="16.80" textLength="25.92" lengthAdjust="spacingAndGlyphs" fill="#434651" stroke="#434651" stroke-width="0.3">Jun</text>
<text x="1026.50" y="1458.00" font-size="16.80" textLength="36.47" lengthAdjust="spacingAndGlyphs" fill="#434651" font-weight="bold">2020</text>
<text x="1154.24" y="1458.00" font-size="16.80" textLength="25.92" lengthAdjust="spacingAndGlyphs" fill="#434651" stroke="#434651" stroke-width="0.3">Jun</text>
</g>
<rect x="1326" y="594" width="85" height="25" fill="#ef5350"/>
<path d="M1326 606.45 h6.6" stroke="#fff" stroke-width="1.1"/>
<text x="1338.32" y="612.30" font-size="16.80" textLength="59.40" lengthAdjust="spacingAndGlyphs" fill="#fff" stroke="#fff" stroke-width="0.3">9090.61</text>
<rect x="1347.1" y="2.1" width="52.9" height="24.8" rx="3.5" fill="#f0f3fa"/>
<text x="1359.01" y="19.70" font-size="17.00" textLength="29.64" lengthAdjust="spacingAndGlyphs" fill="#131722" stroke="#131722" stroke-width="0.35">USD</text>
<circle cx="1373.2" cy="1450.1" r="7.3" fill="none" stroke="#131722" stroke-width="1.6"/>
<path d="M1380.5 1450.1 L1384.5 1450.1 M1378.36 1455.26 L1381.19 1458.09 M1373.2 1457.4 L1373.2 1461.4 M1368.04 1455.26 L1365.21 1458.09 M1365.9 1450.1 L1361.9 1450.1 M1368.04 1444.94 L1365.21 1442.11 M1373.2 1442.8 L1373.2 1438.8 M1378.36 1444.94 L1381.19 1442.11" stroke="#131722" stroke-width="1.6" fill="none"/>
<text x="7.01" y="26.00" font-size="24.20" textLength="76.08" lengthAdjust="spacingAndGlyphs" fill="#4c505c" stroke="#4c505c" stroke-width="0.3">Bitcoin</text>
<text x="91.90" y="26.00" font-size="24.20" textLength="8.21" lengthAdjust="spacingAndGlyphs" fill="#4c505c" stroke="#4c505c" stroke-width="0.3">/</text>
<text x="108.86" y="26.00" font-size="24.20" textLength="64.49" lengthAdjust="spacingAndGlyphs" fill="#4c505c" stroke="#4c505c" stroke-width="0.3">Dollar</text>
<text x="191.89" y="26.00" font-size="24.20" textLength="32.11" lengthAdjust="spacingAndGlyphs" fill="#4c505c" stroke="#4c505c" stroke-width="0.3">1W</text>
<text x="242.50" y="26.00" font-size="24.20" textLength="101.56" lengthAdjust="spacingAndGlyphs" fill="#4c505c" stroke="#4c505c" stroke-width="0.3">BITSTAMP</text>
<text x="175.72" y="28.57" font-size="38.97" textLength="12.98" lengthAdjust="spacingAndGlyphs" fill="#b9bcc7" stroke="#b9bcc7" stroke-width="0.3">·</text>
<text x="226.52" y="28.57" font-size="38.97" textLength="12.98" lengthAdjust="spacingAndGlyphs" fill="#b9bcc7" stroke="#b9bcc7" stroke-width="0.3">·</text>
<circle cx="381.4" cy="17.3" r="13.6" fill="#dff2f0"/>
<circle cx="381.1" cy="17.0" r="6.2" fill="#089688"/>
<text x="419.92" y="26.90" font-size="19.51" textLength="14.47" lengthAdjust="spacingAndGlyphs" fill="#434651" stroke="#434651" stroke-width="0.3">O</text>
<text x="433.30" y="26.90" font-size="19.51" textLength="68.70" lengthAdjust="spacingAndGlyphs" fill="#ef5350" stroke="#ef5350" stroke-width="0.3">9287.89</text>
<text x="512.07" y="26.90" font-size="19.51" textLength="14.25" lengthAdjust="spacingAndGlyphs" fill="#434651" stroke="#434651" stroke-width="0.3">H</text>
<text x="526.01" y="26.90" font-size="19.51" textLength="68.04" lengthAdjust="spacingAndGlyphs" fill="#ef5350" stroke="#ef5350" stroke-width="0.3">9798.76</text>
<text x="604.01" y="26.90" font-size="19.51" textLength="10.74" lengthAdjust="spacingAndGlyphs" fill="#434651" stroke="#434651" stroke-width="0.3">L</text>
<text x="613.90" y="26.90" font-size="19.51" textLength="68.25" lengthAdjust="spacingAndGlyphs" fill="#ef5350" stroke="#ef5350" stroke-width="0.3">8830.63</text>
<text x="692.88" y="26.90" font-size="19.51" textLength="11.87" lengthAdjust="spacingAndGlyphs" fill="#434651" stroke="#434651" stroke-width="0.3">C</text>
<text x="705.53" y="26.90" font-size="19.51" textLength="65.98" lengthAdjust="spacingAndGlyphs" fill="#ef5350" stroke="#ef5350" stroke-width="0.3">9090.61</text>
<text x="782.05" y="26.90" font-size="19.51" textLength="68.90" lengthAdjust="spacingAndGlyphs" fill="#ef5350" stroke="#ef5350" stroke-width="0.3">−192.42</text>
<text x="856.98" y="26.90" font-size="19.51" textLength="72.94" lengthAdjust="spacingAndGlyphs" fill="#ef5350" stroke="#ef5350" stroke-width="0.3">(−2.07%)</text>
<rect x="9.7" y="38.6" width="44.6" height="29.7" rx="3.5" fill="#fff" fill-opacity="0.9" stroke="#cfd2dc" stroke-width="1.1"/>
<path d="M18.6 50.7 L24.3 56.0 L30.0 50.7" fill="none" stroke="#131722" stroke-width="1.9"/>
<text x="37.68" y="59.80" font-size="20.07" textLength="11.37" lengthAdjust="spacingAndGlyphs" fill="#131722" stroke="#131722" stroke-width="0.3">2</text>
</svg>
</body></html>
